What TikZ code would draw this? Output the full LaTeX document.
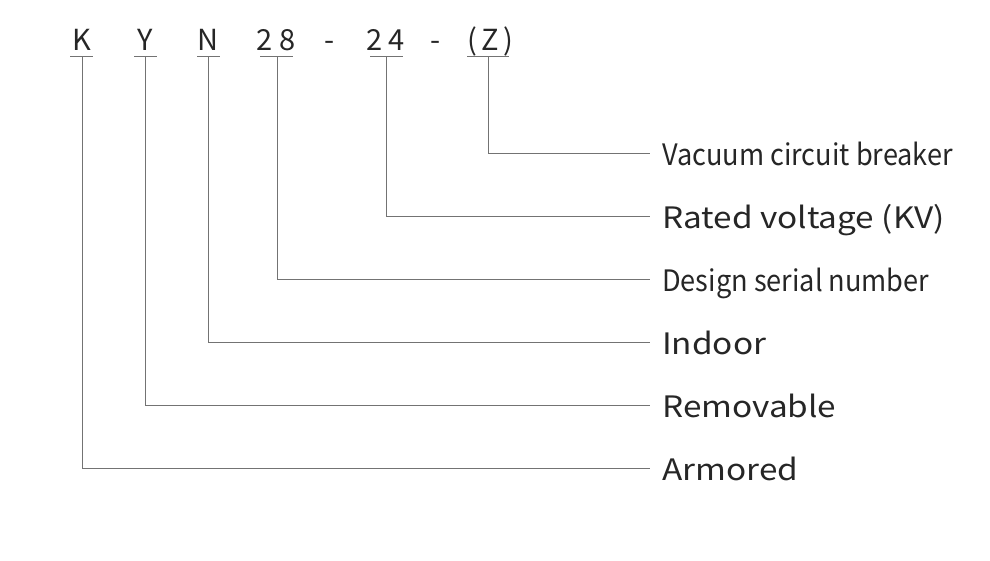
\documentclass[tikz,border=0pt]{standalone}
\usepackage{fontspec}
\usepackage{graphicx}
\setmainfont{Noto Sans CJK SC}
\begin{document}
\begin{tikzpicture}[x=1pt,y=-1pt,
  ln/.style={draw=black!55,line width=0.9pt},
  ch/.style={inner sep=0,anchor=base,font=\fontsize{29}{29}\selectfont,text=black!85},
  lb/.style={inner sep=0,anchor=base west,font=\fontsize{29.5}{30}\selectfont,text=black!85}]
\useasboundingbox (0,0) rectangle (990,560);
\node[ch] (cK) at (82,50) {K};
\node[ch] (cY) at (145,50) {Y};
\node[ch] (cN) at (208,50) {N};
\node[ch] (c2) at (265,50) {2};
\node[ch] (c8) at (288,50) {8};
\node[ch] (d1) at (330,50) {-};
\node[ch] (c2b) at (375,50) {2};
\node[ch] (c4) at (397,50) {4};
\node[ch] (d2) at (436,50) {-};
\node[ch] (p1) at (472,50) {(};
\node[ch] (cZ) at (490,50) {Z};
\node[ch] (p2) at (508,50) {)};
\coordinate (uK) at (82,56); \coordinate (uY) at (145,56); \coordinate (uN) at (208,56);
\coordinate (u28) at (277,56); \coordinate (u24) at (386,56); \coordinate (uZ) at (488,56);
\draw[ln] (70,56)--(93,56); \draw[ln] (134,56)--(157,56); \draw[ln] (197,56)--(220,56);
\draw[ln] (260,56)--(293,56); \draw[ln] (370,56)--(403,56); \draw[ln] (467,56)--(509,56);
\node[lb] (lZ) at (662,165) {\scalebox{0.92}[1]{Vacuum circuit breaker}};
\node[lb] (l24) at (662,228) {\scalebox{1.13}[1]{Rated voltage (KV)}};
\node[lb] (l28) at (662,291) {\scalebox{0.92}[1]{Design serial number}};
\node[lb] (lN) at (662,354) {\scalebox{1.13}[1]{Indoor}};
\node[lb] (lY) at (662,417) {\scalebox{1.13}[1]{Removable}};
\node[lb] (lK) at (662,480) {\scalebox{1.13}[1]{Armored}};
\draw[ln] (uZ) |- (650,153);
\draw[ln] (u24) |- (650,216);
\draw[ln] (u28) |- (650,279);
\draw[ln] (uN) |- (650,342);
\draw[ln] (uY) |- (650,405);
\draw[ln] (uK) |- (650,468);
\end{tikzpicture}
\end{document}
